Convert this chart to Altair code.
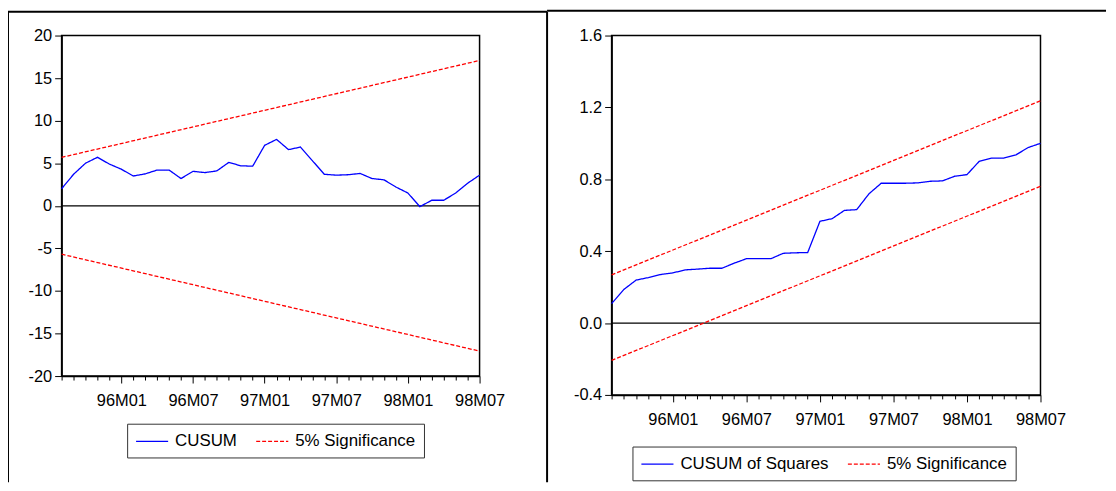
import altair as alt
import pandas as pd

# ---------------- data ----------------
n_months = 36  # 95M08 .. 98M07
tick_index = [5, 11, 17, 23, 29, 35]
tick_labels = ["96M01", "96M07", "97M01", "97M07", "98M01", "98M07"]

cusum = [2.0, 3.7, 5.0, 5.7, 4.9, 4.3, 3.5, 3.75, 4.2, 4.2, 3.2, 4.05,
         3.9, 4.1, 5.1, 4.7, 4.65, 7.1, 7.8, 6.6, 6.9, 5.3, 3.7, 3.6,
         3.65, 3.8, 3.2, 3.05, 2.2, 1.5, -0.1, 0.65, 0.65, 1.5, 2.65, 3.6]
cusum_upper = [5.69, 17.07]
cusum_lower = [-5.69, -17.07]

cusumsq = [0.108, 0.187, 0.239, 0.253, 0.270, 0.279, 0.296, 0.300, 0.305, 0.305,
           0.333, 0.358, 0.358, 0.358, 0.388, 0.391, 0.392, 0.566, 0.581, 0.627,
           0.631, 0.719, 0.778, 0.778, 0.778, 0.780, 0.789, 0.791, 0.817, 0.826,
           0.900, 0.918, 0.918, 0.936, 0.977, 1.000]
cusumsq_upper = [0.268, 1.237]
cusumsq_lower = [-0.208, 0.761]

BLUE = "#0000ff"
RED = "#ff0000"
FONT = "Liberation Sans"


def build_df(main_name, main_vals, upper, lower):
    rows = []
    for i, v in enumerate(main_vals):
        rows.append({"idx": i, "value": v, "series": main_name, "line": "main"})
    ends = [0, n_months - 1]
    for e, v in zip(ends, upper):
        rows.append({"idx": e, "value": v, "series": "5% Significance", "line": "upper"})
    for e, v in zip(ends, lower):
        rows.append({"idx": e, "value": v, "series": "5% Significance", "line": "lower"})
    return pd.DataFrame(rows)


label_expr = " : ".join(
    f"datum.value == {i} ? '{l}'" for i, l in zip(tick_index, tick_labels)
) + " : ''"


def x_axis():
    return alt.Axis(
        values=list(range(n_months)),
        labelExpr=label_expr,
        tickSize={"condition": {"test": "datum.value % 6 == 5", "value": 7}, "value": 4},
        labelOverlap=False,
        labelFlush=False,
        labelPadding=10,
        title=None,
    )


def panel(main_name, main_vals, upper, lower, ydom, yvals, yfmt, w, h,
          legend_xy, deco):
    df = build_df(main_name, main_vals, upper, lower)
    domain = [main_name, "5% Significance"]
    leg = alt.Legend(
        orient="none", legendX=legend_xy[0], legendY=legend_xy[1],
        direction="horizontal", title=None,
        labelFontSize=17, labelFont=FONT, labelColor="black",
        symbolType="M-1.9,0H1.9", symbolSize=289, symbolStrokeWidth=1.2,
        symbolOffset=7.65, labelOffset=13.65, columnPadding=16, padding=8,
        strokeColor="#333333",
    )
    lines = alt.Chart(df).mark_line(strokeWidth=1.3).encode(
        x=alt.X("idx:Q", scale=alt.Scale(domain=[0, n_months - 1], nice=False, zero=False),
                axis=x_axis()),
        y=alt.Y("value:Q", scale=alt.Scale(domain=ydom, nice=False, zero=False),
                axis=alt.Axis(values=yvals, format=yfmt, tickSize=7, labelPadding=3,
                              title=None, labelFlush=False,
                              labelExpr="replace(datum.label, '\u2212', '-')")),
        color=alt.Color("series:N", scale=alt.Scale(domain=domain, range=[BLUE, RED]), legend=leg),
        strokeDash=alt.StrokeDash("series:N",
                                  scale=alt.Scale(domain=domain, range=[[1, 0], [4, 2]]),
                                  legend=leg),
        detail="line:N",
    )
    zero = alt.Chart(pd.DataFrame({"zero": [0]})).mark_rule(
        color="black", strokeWidth=1.2).encode(y="zero:Q")
    layers = []
    one = pd.DataFrame({"d": [0]})
    for (x1, y1, x2, y2) in deco:
        enc = {"x": alt.value(x1), "y": alt.value(y1)}
        if x2 is not None:
            enc["x2"] = alt.value(x2)
        if y2 is not None:
            enc["y2"] = alt.value(y2)
        layers.append(alt.Chart(one).mark_rule(color="black", strokeWidth=2).encode(**enc))
    return alt.layer(*layers, zero, lines).properties(width=w, height=h)


# table borders (decoration), in each panel's own pixel frame
left = panel("CUSUM", cusum, cusum_upper, cusum_lower, [-20, 20],
             [-20, -15, -10, -5, 0, 5, 10, 15, 20], "d", 421, 343,
             (66, 391),
             [(-54, -24, 489, None),      # top line
              (-54, -24, None, 450),      # left border
              (489, -24, None, 450)])     # middle divider
right = panel("CUSUM of Squares", cusumsq, cusumsq_upper, cusumsq_lower, [-0.4, 1.6],
              [-0.4, 0.0, 0.4, 0.8, 1.2, 1.6], ".1f", 432, 362,
              (21, 414),
              [(-65, -25, 498, None)])    # top line

chart = alt.hconcat(
    left, right, spacing=-4,
    padding={"top": -1, "left": -2, "right": 0, "bottom": 0},
).resolve_scale(
    color="independent", strokeDash="independent"
).resolve_legend(color="independent", strokeDash="independent").configure_view(
    stroke="black", strokeWidth=1.5
).configure_axis(
    domainColor="black", domainWidth=1.5, tickColor="black", tickWidth=1,
    labelColor="black", labelFont=FONT, labelFontSize=16.5, grid=False,
)

chart.save("out.html", embed_options={"renderer": "svg", "actions": False})
